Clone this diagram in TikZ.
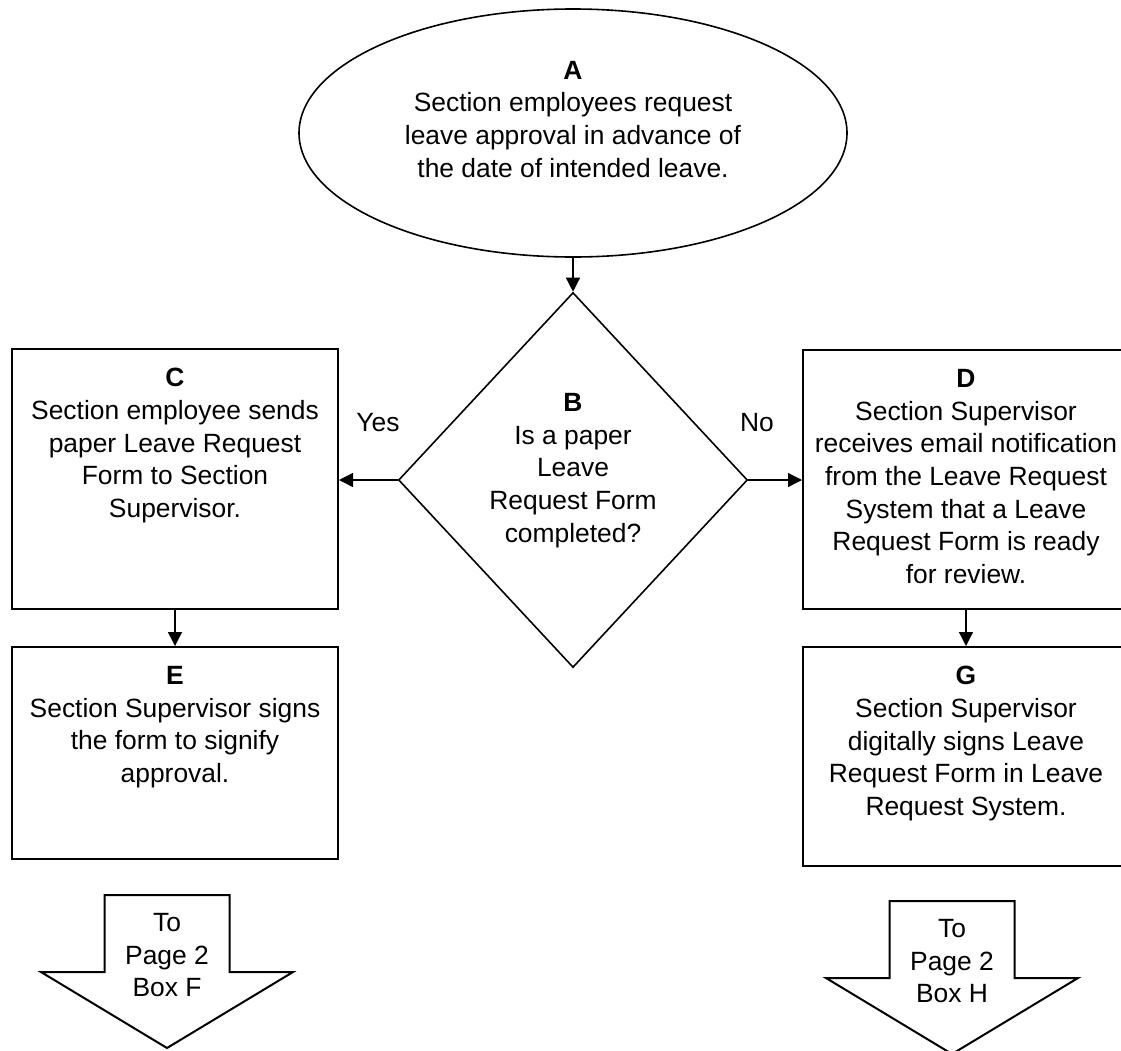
\documentclass[tikz,border=0pt]{standalone}
\usepackage{fontspec}
\setmainfont{Liberation Sans}
\usetikzlibrary{arrows.meta,shapes.geometric}
\tikzset{
  txt/.style     = {font=\fontsize{26.4pt}{32.7pt}\selectfont, align=center, inner sep=0pt},
  stepbox/.style = {draw, line width=2pt, minimum width=326pt, inner sep=0pt},
  startnode/.style = {draw, ellipse, line width=1.6pt, minimum width=548pt,
                  minimum height=248pt, inner sep=0pt},
  choice/.style  = {draw, diamond, line width=1.6pt, minimum width=349pt,
                  minimum height=375pt, inner sep=0pt},
  boxtext/.style = {txt, anchor=north, yshift=-20pt},
  conn/.style    = {-{Triangle[length=14pt,width=14pt]}, line width=1.3pt},
  pagearrow/.style = {line width=2pt, line join=miter},
}

\begin{document}
\begin{tikzpicture}[x=1pt,y=-1pt]
  \useasboundingbox (0,0) rectangle (1121,1050);
  % start and decision
  \node[startnode, label={[txt, anchor=north, yshift=-52.5pt]north:{\textbf{A}\\Section employees request\\leave approval in advance of\\the date of intended leave.}}] (A) at (573,133) {};
  \node[choice, label={[txt, anchor=north, yshift=-101.5pt]north:{\textbf{B}\\Is a paper\\Leave\\Request Form\\completed?}}] (B) at (573,480) {};
  % paper path
  \node[stepbox, minimum height=260pt, label={[boxtext]north:{\textbf{C}\\Section employee sends\\paper Leave Request\\Form to Section\\Supervisor.}}] (C) at (175,479) {};
  \node[stepbox, minimum height=212pt, label={[boxtext]north:{\textbf{E}\\Section Supervisor signs\\the form to signify\\approval.}}] (E) at (175,753) {};
  % electronic path
  \node[stepbox, minimum height=259pt, label={[boxtext]north:{\textbf{D}\\Section Supervisor\\receives email notification\\from the Leave Request\\System that a Leave\\Request Form is ready\\for review.}}] (D) at (966,479.5) {};
  \node[stepbox, minimum height=219pt, label={[boxtext]north:{\textbf{G}\\Section Supervisor\\digitally signs Leave\\Request Form in Leave\\Request System.}}] (G) at (966,756.5) {};
  \node[txt] (yes) at (378,423) {Yes};
  \node[txt] (no) at (757,423) {No};
  \draw[conn] (A) -- (B);
  \draw[conn] (B.west) -- (B.west -| C.east);
  \draw[conn] (B.east) -- (B.east -| D.west);
  \draw[conn] (C) -- (E);
  \draw[conn] (D) -- (G);
  % off-page connectors
  \foreach \x/\y/\t in {167/895/F,952/901/H}{
    \draw[pagearrow] (\x-62.5,\y) -- (\x+62.5,\y) -- (\x+62.5,\y+77) -- (\x+126,\y+77)
      -- (\x,\y+153) -- (\x-126,\y+77) -- (\x-62.5,\y+77) -- cycle;
    \node[txt, anchor=north] (to\t) at (\x,\y+18) {To\\Page 2\\Box \t};}
\end{tikzpicture}
\end{document}
